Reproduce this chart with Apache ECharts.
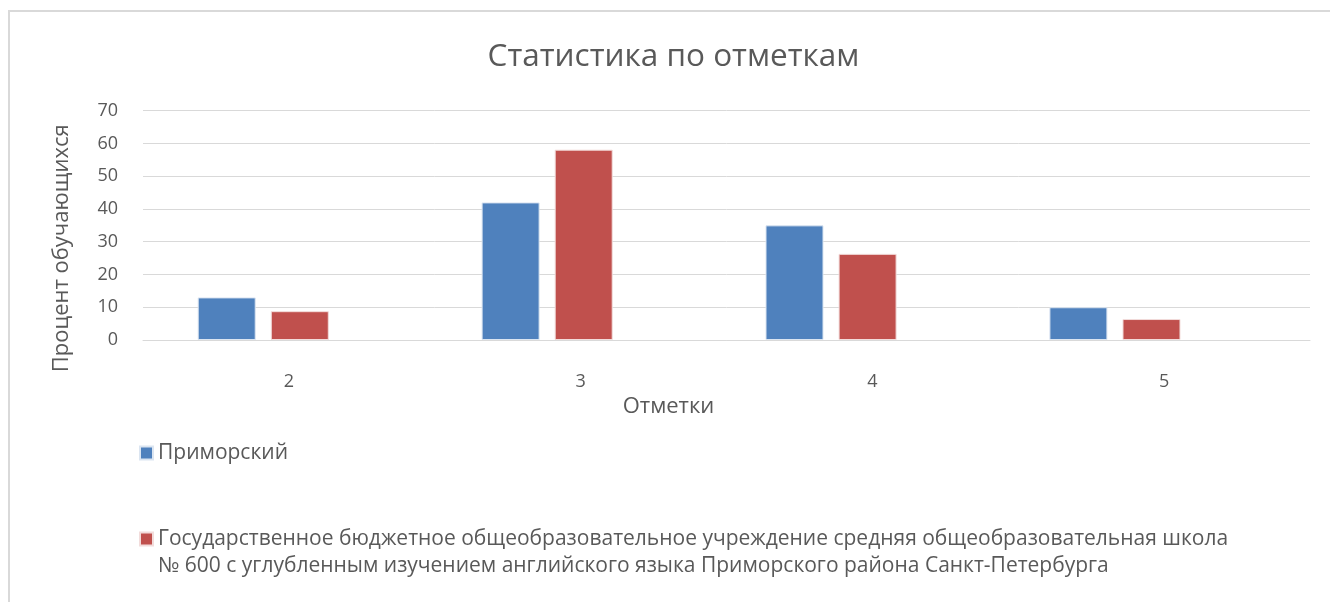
<!DOCTYPE html>
<html><head><meta charset="utf-8">
<script src="https://cdn.jsdelivr.net/npm/echarts@6/dist/echarts.min.js"></script>
<style>html,body{margin:0;padding:0;background:#fff}#c{width:1330px;height:602px}</style>
</head><body><div id="c"></div>
<script>
const categories = ['2', '3', '4', '5'];
const seriesNames = ['Приморский', 'Государственное бюджетное общеобразовательное учреждение средняя общеобразовательная школа № 600 с углубленным изучением английского языка Приморского района Санкт-Петербурга'];
const primorsky = [13.0, 42.0, 35.0, 10.0];
const school600 = [8.8, 58.1, 26.3, 6.4];
const yTicks = [0, 10, 20, 30, 40, 50, 60, 70];

const font = '"Open Sans", "Noto Sans", sans-serif';
const legendText = {
  fontFamily: font, fontSize: 21, color: '#595959', lineHeight: 27
};
const chart = echarts.init(document.getElementById('c'));
chart.setOption({
  animation: false,
  backgroundColor: '#fff',
  textStyle: { fontFamily: font },
  graphic: [{
    type: 'polyline', silent: true,
    shape: { points: [[9, 602], [9, 11], [1330, 11]] },
    style: { stroke: '#d9d9d9', lineWidth: 2, fill: null }
  }],
  title: {
    text: 'Статистика по отметкам',
    left: 673.5, top: 41, textAlign: 'center', padding: 0,
    textStyle: { fontFamily: font, fontSize: 31.5, fontWeight: 'normal', color: '#595959' }
  },
  legend: [{
    left: 139, top: 439.5, padding: 0,
    itemWidth: 13, itemHeight: 13, itemGap: 6, icon: 'rect',
    data: [seriesNames[0]],
    textStyle: legendText
  }, {
    left: 139, top: 498.5, padding: 0,
    itemWidth: 13, itemHeight: 13, icon: 'rect',
    data: [seriesNames[1]],
    formatter: function (n) { return '\u00a0\n' + n.replace(' № ', '\n№ '); },
    textStyle: legendText
  }],
  grid: [
    { left: 143, right: 20, top: 110.7, bottom: 262 },
    { left: 121.3, right: 73.1, top: 110.7, bottom: 262 }
  ],
  xAxis: [{
    type: 'category', data: categories, gridIndex: 0,
    name: 'Отметки', nameLocation: 'middle', nameGap: 56,
    nameTextStyle: { fontFamily: font, fontSize: 22, color: '#595959', padding: [0, 116, 0, 0] },
    axisLine: { lineStyle: { color: '#d9d9d9' } },
    axisTick: { show: false },
    axisLabel: { fontFamily: font, fontSize: 18, color: '#595959', margin: 33 }
  }, {
    type: 'category', data: categories, gridIndex: 1, show: false
  }],
  yAxis: [{
    type: 'value', gridIndex: 0, min: yTicks[0], max: yTicks[yTicks.length - 1], interval: 10,
    name: 'Процент обучающихся', nameLocation: 'middle', nameGap: 70, nameRotate: 90,
    nameTextStyle: { fontFamily: font, fontSize: 22, color: '#595959', padding: [0, 46, 0, 0] },
    axisLine: { show: false }, axisTick: { show: false },
    axisLabel: { fontFamily: font, fontSize: 18, color: '#595959', margin: 25 },
    splitLine: { lineStyle: { color: '#d9d9d9', width: 1 } }
  }, {
    type: 'value', gridIndex: 1, min: yTicks[0], max: yTicks[yTicks.length - 1], interval: 10, show: false
  }],
  series: [
    { name: seriesNames[0], type: 'bar', data: primorsky, xAxisIndex: 1, yAxisIndex: 1,
      barWidth: 58, barGap: '26%',
      itemStyle: { color: '#4f81bd', borderColor: '#dbe5f1', borderWidth: 1 } },
    { name: seriesNames[1], type: 'bar', data: school600, xAxisIndex: 1, yAxisIndex: 1,
      barWidth: 58, barGap: '26%',
      itemStyle: { color: '#c0504d', borderColor: '#f2dcdb', borderWidth: 1 } }
  ]
});
</script></body></html>
